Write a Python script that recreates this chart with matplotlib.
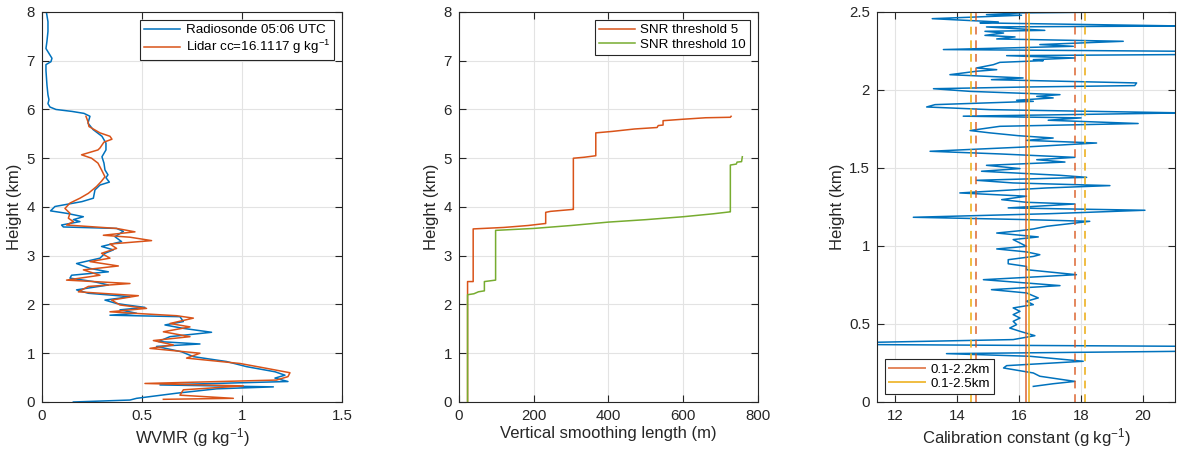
import matplotlib
matplotlib.use("Agg")
import matplotlib.pyplot as plt

# ---- panel 1: WVMR profiles (height km, value g/kg) ----
sonde_h = [8.0, 7.8, 7.6, 7.4, 7.25, 7.15, 7.05, 6.98, 6.92, 6.8, 6.5, 6.3, 6.2, 6.12, 6.05,
           6.0, 5.96, 5.92, 5.86, 5.72, 5.59, 5.45, 5.31, 5.21, 5.17, 5.03, 4.9, 4.76, 4.66, 4.6,
           4.51, 4.45, 4.35, 4.18, 4.11, 4.01, 3.92, 3.87, 3.8, 3.74, 3.7, 3.63, 3.59, 3.56, 3.5,
           3.39, 3.29, 3.19, 3.12, 3.05, 2.95, 2.84, 2.74, 2.67, 2.6, 2.54, 2.47, 2.4, 2.3, 2.23,
           2.16, 2.09, 2.02, 1.99, 1.94, 1.89, 1.82, 1.78, 1.75, 1.65, 1.58, 1.51, 1.43, 1.34, 1.24,
           1.19, 1.14, 1.03, 0.93, 0.83, 0.725, 0.62, 0.55, 0.49, 0.42, 0.35, 0.31, 0.27, 0.18, 0.075,
           0.04, 0.0]
sonde_q = [0.022, 0.03, 0.03, 0.025, 0.02, 0.035, 0.05, 0.045, 0.02, 0.02, 0.025, 0.03, 0.035, 0.03, 0.04,
           0.07, 0.15, 0.21, 0.24, 0.23, 0.255, 0.30, 0.32, 0.32, 0.32, 0.30, 0.31, 0.315, 0.33, 0.32,
           0.337, 0.29, 0.265, 0.257, 0.2, 0.065, 0.043, 0.123, 0.207, 0.157, 0.19, 0.098, 0.107, 0.373, 0.407,
           0.365, 0.398, 0.298, 0.357, 0.315, 0.29, 0.173, 0.24, 0.332, 0.148, 0.14, 0.257, 0.332, 0.173, 0.232,
           0.44, 0.315, 0.373, 0.423, 0.515, 0.39, 0.473, 0.34, 0.69, 0.707, 0.615, 0.707, 0.848, 0.64, 0.582,
           0.79, 0.573, 0.698, 0.757, 0.923, 1.023, 1.165, 1.215, 1.165, 1.23, 0.59, 1.157, 0.873, 0.673, 0.473,
           0.44, 0.157]

lidar_h = [5.86, 5.75, 5.65, 5.52, 5.45, 5.39, 5.33, 5.21, 5.17, 5.07, 5.0, 4.9, 4.76, 4.62, 4.53,
           4.42, 4.28, 4.18, 4.08, 3.97, 3.87, 3.77, 3.7, 3.63, 3.56, 3.49, 3.42, 3.38, 3.31, 3.24,
           3.15, 3.05, 2.95, 2.88, 2.79, 2.71, 2.6, 2.5, 2.43, 2.37, 2.26, 2.18, 2.09, 1.99, 1.92,
           1.85, 1.82, 1.77, 1.72, 1.61, 1.54, 1.44, 1.34, 1.26, 1.17, 1.1, 1.0, 0.9, 0.79, 0.69,
           0.6, 0.52, 0.45, 0.38, 0.33, 0.25, 0.14, 0.075, 0.055]
lidar_q = [0.22, 0.23, 0.235, 0.29, 0.34, 0.35, 0.31, 0.29, 0.28, 0.198, 0.248, 0.28, 0.298, 0.315, 0.298,
           0.273, 0.232, 0.19, 0.14, 0.115, 0.14, 0.132, 0.157, 0.123, 0.373, 0.465, 0.307, 0.44, 0.548, 0.34,
           0.373, 0.298, 0.34, 0.24, 0.382, 0.207, 0.29, 0.123, 0.44, 0.232, 0.182, 0.482, 0.348, 0.39, 0.523,
           0.34, 0.457, 0.673, 0.757, 0.64, 0.74, 0.607, 0.74, 0.557, 0.657, 0.54, 0.79, 0.723, 0.99, 1.123,
           1.24, 1.23, 1.173, 0.515, 1.007, 0.707, 0.69, 0.957, 0.607]

# ---- panel 2: vertical smoothing length (m) vs height (km) ----
snr5_len = [23, 23, 38, 38, 120, 185, 230, 232, 232, 245, 305, 306, 306, 335, 365, 366, 366,
            410, 470, 530, 533, 546, 546, 600, 660, 726, 728]
snr5_h = [0, 2.47, 2.47, 3.55, 3.58, 3.62, 3.66, 3.66, 3.89, 3.91, 3.95, 3.95, 5.0, 5.02, 5.05, 5.05, 5.52,
          5.55, 5.6, 5.63, 5.67, 5.68, 5.77, 5.8, 5.83, 5.84, 5.86]
snr10_len = [23, 23, 40, 52, 68, 68, 98, 98, 200, 300, 400, 500, 600, 680, 725, 726, 726,
             742, 744, 756, 758]
snr10_h = [0, 2.2, 2.22, 2.26, 2.28, 2.47, 2.5, 3.52, 3.56, 3.62, 3.69, 3.74, 3.8, 3.86, 3.9, 3.9, 4.86,
           4.88, 4.92, 4.93, 5.03]

# ---- panel 3: calibration constant profile ----
cal_h = [2.500, 2.494, 2.483, 2.479, 2.457, 2.436, 2.430, 2.410, 2.404, 2.382,
         2.376, 2.365, 2.350, 2.340, 2.327, 2.312, 2.291, 2.280, 2.259, 2.248,
         2.227, 2.220, 2.205, 2.194, 2.188, 2.177, 2.162, 2.141, 2.130, 2.120,
         2.098, 2.077, 2.066, 2.045, 2.028, 2.019, 2.008, 1.991, 1.970, 1.959,
         1.949, 1.934, 1.927, 1.906, 1.891, 1.874, 1.853, 1.832, 1.821, 1.806,
         1.785, 1.767, 1.740, 1.725, 1.707, 1.692, 1.677, 1.660, 1.635, 1.607,
         1.590, 1.568, 1.553, 1.538, 1.517, 1.496, 1.479, 1.453, 1.440, 1.421,
         1.404, 1.387, 1.372, 1.340, 1.319, 1.297, 1.280, 1.269, 1.244, 1.229,
         1.207, 1.184, 1.169, 1.158, 1.126, 1.109, 1.098, 1.083, 1.058, 1.041,
         1.019, 0.998, 0.981, 0.962, 0.944, 0.933, 0.912, 0.886, 0.869, 0.848,
         0.816, 0.784, 0.763, 0.746, 0.720, 0.699, 0.667, 0.646, 0.624, 0.603,
         0.581, 0.560, 0.538, 0.517, 0.496, 0.474, 0.453, 0.425, 0.400, 0.382,
         0.368, 0.357, 0.340, 0.325, 0.310, 0.293, 0.261, 0.233, 0.218, 0.186,
         0.165, 0.132, 0.117, 0.100]
cal_c = [19.2, 16.08, 14.95, 16.08, 13.2, 15.33, 14.74, 21.3, 14.95, 16.83,
         14.9, 15.5, 14.9, 15.87, 15.28, 19.36, 16.67, 17.75, 13.56, 21.3,
         21.3, 15.6, 17.8, 16.46, 16.78, 15.38, 15.17, 14.63, 15.28, 14.63,
         13.77, 16.13, 15.11, 19.79, 19.73, 16.24, 13.24, 14.42, 17.32, 16.57,
         17.1, 15.92, 16.46, 13.29, 13.02, 15.06, 21.3, 14.2, 18.0, 16.94,
         19.84, 15.38, 14.42, 15.06, 15.97, 17.1, 16.24, 18.5, 16.24, 13.13,
         15.38, 17.8, 16.57, 17.48, 14.95, 16.03, 14.79, 17.32, 18.18, 14.63,
         15.81, 18.93, 16.89, 14.09, 16.24, 15.44, 16.24, 17.8, 15.65, 20.06,
         16.99, 12.59, 16.24, 18.28, 16.89, 16.46, 16.03, 15.28, 16.62, 15.81,
         16.03, 16.24, 15.28, 16.24, 16.67, 16.46, 15.65, 15.65, 16.24, 16.24,
         17.85, 14.85, 16.24, 17.32, 15.11, 16.24, 16.62, 16.24, 16.46, 15.81,
         16.03, 15.81, 16.03, 15.81, 15.92, 15.7, 16.03, 16.51, 15.81, 11.2,
         11.2, 21.3, 21.3, 21.3, 13.66, 16.35, 18.07, 15.6, 15.5, 16.46,
         16.67, 17.8, 17.1, 16.46]

mean_22, lo_22, hi_22 = 16.22, 14.6, 17.81
mean_25, lo_25, hi_25 = 16.31, 14.44, 18.14

BLUE = "#0072BD"
ORANGE = "#D95319"
YELLOW = "#EDB120"
GREEN = "#77AC30"
DARK = "#262626"

plt.rcParams["font.family"] = ["Liberation Sans", "DejaVu Sans"]
plt.rcParams["mathtext.default"] = "regular"
plt.rcParams["font.size"] = 11

fig = plt.figure(figsize=(11.82, 4.53), dpi=100)
ax1 = fig.add_axes([0.0355, 0.1126, 0.2538, 0.861])
ax2 = fig.add_axes([0.3883, 0.1126, 0.2530, 0.861])
ax3 = fig.add_axes([0.7420, 0.1126, 0.2521, 0.861])


def matlab_style(ax):
    ax.grid(True, color="#E3E3E3", linewidth=0.8)
    ax.set_axisbelow(True)
    ax.tick_params(direction="in", top=True, right=True, length=5, width=0.8,
                   colors=DARK, labelsize=10.8, pad=5)
    for s in ax.spines.values():
        s.set_color(DARK)
        s.set_linewidth(0.8)


def add_legend(ax, loc):
    leg = ax.legend(loc=loc, fancybox=False, framealpha=1, fontsize=9.6,
                    handlelength=2.7, handletextpad=0.4, borderpad=0.3,
                    labelspacing=0.15, borderaxespad=0.6)
    fr = leg.get_frame()
    fr.set_edgecolor(DARK)
    fr.set_linewidth(0.8)


LABEL_KW = dict(fontsize=12, color=DARK)

# panel 1
ax1.plot(sonde_q, sonde_h, color=BLUE, lw=1.1, label="Radiosonde 05:06 UTC")
ax1.plot(lidar_q, lidar_h, color=ORANGE, lw=1.1, label="Lidar cc=16.1117 g kg$^{-1}$")
ax1.set_xlim(0, 1.5)
ax1.set_ylim(0, 8)
ax1.set_xticks([0, 0.5, 1, 1.5])
ax1.set_xticklabels(["0", "0.5", "1", "1.5"])
ax1.set_xlabel("WVMR (g kg$^{-1}$)", labelpad=2, **LABEL_KW)
ax1.set_ylabel("Height (km)", labelpad=3, **LABEL_KW)
matlab_style(ax1)
add_legend(ax1, "upper right")

# panel 2
ax2.plot(snr5_len, snr5_h, color=ORANGE, lw=1.1, label="SNR threshold 5")
ax2.plot(snr10_len, snr10_h, color=GREEN, lw=1.1, label="SNR threshold 10")
ax2.set_xlim(0, 800)
ax2.set_ylim(0, 8)
ax2.set_xticks([0, 200, 400, 600, 800])
ax2.set_xlabel("Vertical smoothing length (m)", labelpad=2, **LABEL_KW)
ax2.set_ylabel("Height (km)", labelpad=3, **LABEL_KW)
matlab_style(ax2)
add_legend(ax2, "upper right")

# panel 3
ax3.plot(cal_c, cal_h, color=BLUE, lw=1.1)
ax3.axvline(mean_22, color=ORANGE, alpha=0.7, lw=1.4, label="0.1-2.2km")
ax3.axvline(mean_25, color=YELLOW, alpha=0.85, lw=1.4, label="0.1-2.5km")
for v in (lo_22, hi_22):
    ax3.axvline(v, color=ORANGE, alpha=0.7, lw=1.4, ls=(0, (4, 3)))
for v in (lo_25, hi_25):
    ax3.axvline(v, color=YELLOW, alpha=0.85, lw=1.4, ls=(0, (4, 3)))
ax3.set_xlim(11.42, 21.03)
ax3.set_ylim(0, 2.5)
ax3.set_xticks([12, 14, 16, 18, 20])
ax3.set_yticks([0, 0.5, 1, 1.5, 2, 2.5])
ax3.set_yticklabels(["0", "0.5", "1", "1.5", "2", "2.5"])
ax3.set_xlabel("Calibration constant (g kg$^{-1}$)", labelpad=2, **LABEL_KW)
ax3.set_ylabel("Height (km)", labelpad=3, **LABEL_KW)
matlab_style(ax3)
add_legend(ax3, "lower left")

fig.savefig("out.png", dpi=100)
